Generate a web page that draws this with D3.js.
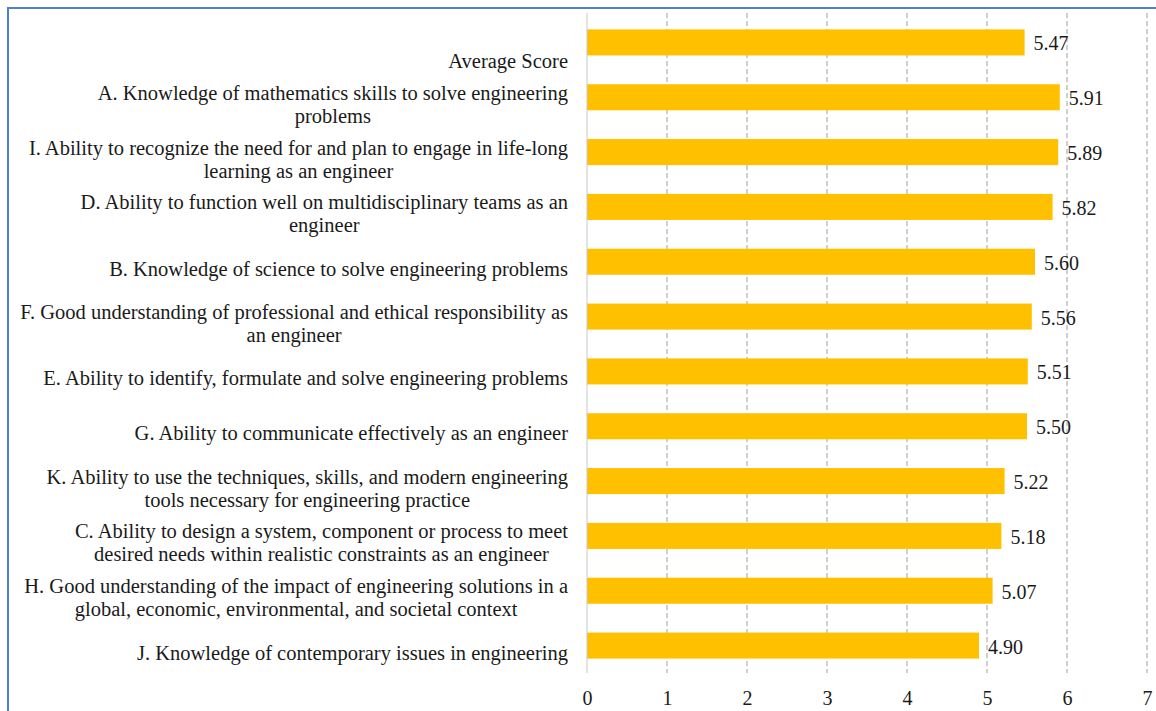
<!DOCTYPE html>
<html>
<head>
<meta charset="utf-8">
<script src="https://cdn.jsdelivr.net/npm/d3@7"></script>
<style>
  body { margin: 0; background: #fff; }
  svg text { font-family: "Liberation Serif", "Times New Roman", serif; fill: #1a1a1a; }
</style>
</head>
<body>
<svg id="chart"></svg>
<script>
// categories, top to bottom, already wrapped the way the picture shows them
// (the first one sits on the lower of two lines in the original)
const categories = [
	["", "Average Score"],
	["A. Knowledge of mathematics skills to solve engineering", "problems"],
	["I. Ability to recognize the need for and plan to engage in life-long", "learning as an engineer"],
	["D. Ability to function well on multidisciplinary teams as an", "engineer"],
	["B. Knowledge of science to solve engineering problems"],
	["F. Good understanding of professional and ethical responsibility as", "an engineer"],
	["E. Ability to identify, formulate and solve engineering problems"],
	["G. Ability to communicate effectively as an engineer"],
	["K. Ability to use the techniques, skills, and modern engineering", "tools necessary for engineering practice"],
	["C. Ability to design a system, component or process to meet", "desired needs within realistic constraints as an engineer"],
	["H. Good understanding of the impact of engineering solutions in a", "global, economic, environmental, and societal context"],
	["J. Knowledge of contemporary issues in engineering"]
];
const scores = [5.47, 5.91, 5.89, 5.82, 5.60, 5.56, 5.51, 5.50, 5.22, 5.18, 5.07, 4.90];
const xTicks = [0, 1, 2, 3, 4, 5, 6, 7];

const W = 1156, H = 711;
const margin = { top: 15, right: 9, bottom: 38, left: 587 };
const height = H - margin.top - margin.bottom;

const svg = d3.select("#chart").attr("width", W).attr("height", H);

// blue frame (runs off the right and bottom edge)
svg.append("path")
	.attr("d", `M8,${H + 5} L8,8 L${W + 5},8`)
	.attr("fill", "none")
	.attr("stroke", "#4f81c7")
	.attr("stroke-width", 2);

const g = svg.append("g").attr("transform", `translate(${margin.left},${margin.top})`);

const x = d3.scaleLinear().domain([0, 7]).range([0, 560]);
const y = d3.scaleBand()
	.domain(d3.range(categories.length))
	.range([0, height])
	.paddingInner(0.525)
	.paddingOuter(0.2625);

// dashed gridlines
g.selectAll(".grid")
	.data(xTicks.slice(1))
	.enter()
	.append("line")
	.attr("x1", d => x(d)).attr("x2", d => x(d))
	.attr("y1", -2).attr("y2", height)
	.attr("stroke", "#a0a0a0")
	.attr("stroke-width", 1)
	.attr("stroke-dasharray", "5,3");

// bars
g.selectAll(".bar")
	.data(scores)
	.enter()
	.append("rect")
	.attr("x", 0)
	.attr("y", (d, i) => y(i))
	.attr("width", d => x(d))
	.attr("height", y.bandwidth())
	.attr("fill", "#ffc000");

// vertical axis line
g.append("line")
	.attr("x1", 0).attr("x2", 0)
	.attr("y1", -2).attr("y2", height)
	.attr("stroke", "#c8c8c8");

// value labels
g.selectAll(".val")
	.data(scores)
	.enter()
	.append("text")
	.attr("x", d => x(d) + 9)
	.attr("y", (d, i) => y(i) + y.bandwidth() / 2 + 8)
	.attr("font-size", 20)
	.text(d => d.toFixed(2));

// x axis tick labels
const xAxis = g.append("g")
	.attr("transform", `translate(0,${height})`)
	.call(d3.axisBottom(x).tickValues(xTicks).tickSize(0).tickPadding(0).tickFormat(d3.format("d")));
xAxis.select(".domain").remove();
xAxis.attr("font-family", null).attr("font-size", null);
xAxis.selectAll("text")
	.attr("font-size", 20)
	.attr("fill", "#1a1a1a")
	.attr("dy", null)
	.attr("y", 32);

// category labels, wrapped lines centred within a right-aligned block
const lineH = 23;
const labelRight = margin.left - 19;
categories.forEach((lines, i) => {
	const cy = margin.top + y(i) + y.bandwidth() / 2 + 8;
	const t = svg.append("text")
		.attr("font-size", 20.5)
		.attr("text-anchor", "middle");
	lines.forEach((ln, j) => {
		t.append("tspan")
			.attr("x", 0)
			.attr("y", cy + (j - (lines.length - 1) / 2) * lineH + 6)
			.text(ln);
	});
	// measure widest line, then shift block so its right edge sits at labelRight
	const w = d3.max(t.selectAll("tspan").nodes(), n => n.getComputedTextLength());
	t.selectAll("tspan").attr("x", labelRight - w / 2);
});
</script>
</body>
</html>
